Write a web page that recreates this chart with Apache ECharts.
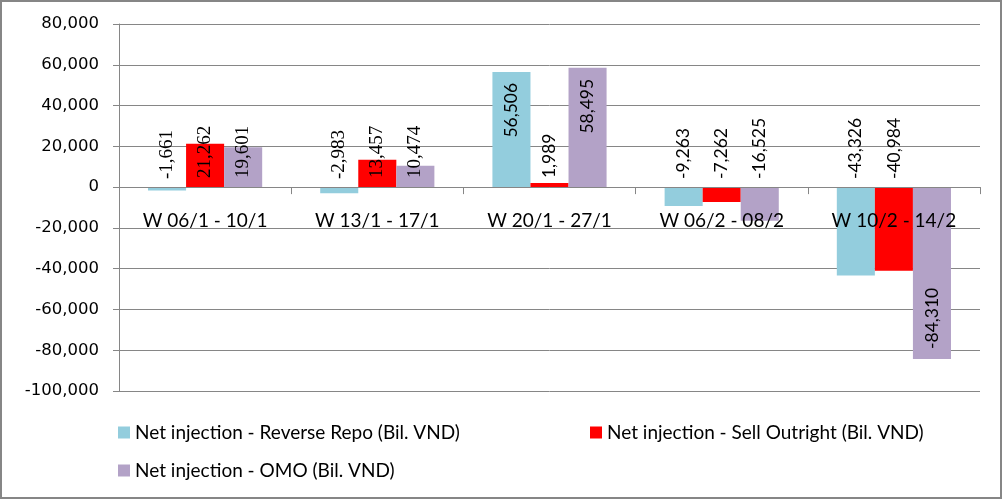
<!DOCTYPE html>
<html><head><meta charset="utf-8">
<script src="https://cdn.jsdelivr.net/npm/echarts@6/dist/echarts.min.js"></script>
<style>html,body{margin:0;padding:0;background:#fff}#c{width:1003px;height:500px}</style>
</head><body><div id="c"></div>
<script>
const categories = ['W 06/1 - 10/1', 'W 13/1 - 17/1', 'W 20/1 - 27/1', 'W 06/2 - 08/2', 'W 10/2 - 14/2'];
const reverseRepo = [-1661, -2983, 56506, -9263, -43326];
const sellOutright = [21262, 13457, 1989, -7262, -40984];
const omo = [19601, 10474, 58495, -16525, -84310];
const seriesNames = ['Net injection - Reverse Repo (Bil. VND)', 'Net injection - Sell Outright (Bil. VND)', 'Net injection - OMO (Bil. VND)'];
const yMin = -100000, yMax = 80000, yInterval = 20000;
const colors = ['#93CDDD', '#FF0000', '#B3A2C7'];

const fmt = v => v.toLocaleString('en-US');
function labelFor(v, i) {
  const serif = i < 2;
  const base = {show: true, rotate: 90, color: '#000', formatter: fmt(v),
    fontFamily: serif ? 'Liberation Serif' : 'Lato', fontSize: serif ? 19 : 17.5, verticalAlign: 'middle'};
  if (v > 40000) return Object.assign(base, {position: 'insideTop', align: 'right', distance: 11});
  if (v < -60000) return Object.assign(base, {position: 'insideBottom', align: 'left', distance: 10});
  if (v < 0) return Object.assign(base, {position: 'top', align: 'left', distance: 8});
  return Object.assign(base, {position: 'insideBottom', align: 'left', distance: 9});
}
const allData = [reverseRepo, sellOutright, omo];
const chart = echarts.init(document.getElementById('c'));
const legendText = {fontFamily: 'Lato', fontSize: 19, color: '#000'};
const legendBase = {padding: 0, itemWidth: 12, itemHeight: 12, icon: 'rect', itemGap: 6, textStyle: legendText, selectedMode: false};
chart.setOption({
  animation: false,
  graphic: [{type: 'rect', shape: {x: 1, y: 1, width: 1000, height: 497}, style: {fill: null, stroke: '#868686', lineWidth: 2}, silent: true}],
  grid: {left: 119, right: 23, top: 24, bottom: 109, containLabel: false},
  legend: [
    Object.assign({left: 118, top: 423, data: [seriesNames[0]]}, legendBase),
    Object.assign({left: 590, top: 423, data: [seriesNames[1]]}, legendBase),
    Object.assign({left: 118, top: 461, data: [seriesNames[2]]}, legendBase)
  ],
  xAxis: {type: 'category', data: categories, offset: 0, z: 10,
    axisLine: {show: true, onZero: false, lineStyle: {color: '#868686', width: 1}},
    axisTick: {show: true, length: 7, lineStyle: {color: '#868686'}},
    axisLabel: {fontFamily: 'Lato', fontSize: 19, color: '#000', margin: 24}},
  yAxis: {type: 'value', min: yMin, max: yMax, interval: yInterval,
    axisLine: {show: true, lineStyle: {color: '#868686'}},
    axisTick: {show: true, length: 6, lineStyle: {color: '#868686'}},
    splitLine: {lineStyle: {color: '#868686', width: 1}},
    axisLabel: {fontFamily: 'DejaVu Sans', fontSize: 16.5, color: '#000', margin: 20, formatter: v => fmt(v)}},
  series: allData.map((arr, s) => ({
    name: seriesNames[s], type: 'bar', barGap: '0%', barCategoryGap: '33.7%',
    itemStyle: {color: colors[s]},
    data: arr.map((v, i) => ({value: v, label: labelFor(v, i)}))
  }))
});
// place the category axis on the zero line
const zeroPx = chart.convertToPixel({yAxisIndex: 0}, 0);
const minPx = chart.convertToPixel({yAxisIndex: 0}, yMin);
chart.setOption({xAxis: {offset: -(minPx - zeroPx)}});
</script></body></html>
